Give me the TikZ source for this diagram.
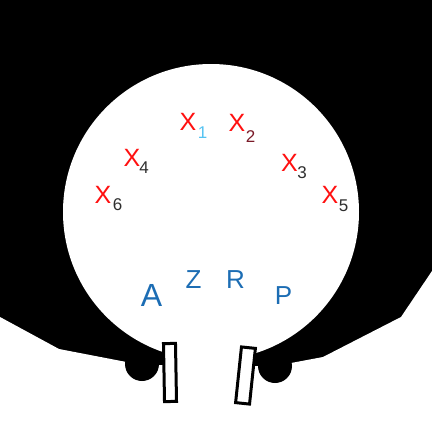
\documentclass[tikz,border=0pt]{standalone}
\usepackage{fontspec}
\setmainfont{Liberation Sans}
\usetikzlibrary{positioning}
\definecolor{scRed}{HTML}{FF1010}
\definecolor{scBlue}{HTML}{1C6DB4}
\definecolor{scSky}{HTML}{55C3F2}
\definecolor{scWine}{HTML}{7A1A28}
\definecolor{scGrey}{HTML}{2E2E2E}
\tikzset{
  xletter/.style={inner sep=0pt, text=scRed, font=\fontsize{25}{25}\selectfont},
  xsub/.style={inner sep=0pt, text=scGrey, font=\fontsize{17}{17}\selectfont},
  bigletter/.style={inner sep=0pt, text=scBlue, font=\fontsize{26}{26}\selectfont},
  post/.style={draw=black, fill=white, line width=3pt, minimum width=12pt, minimum height=58pt, inner sep=0pt},
  knob/.style={fill=black}
}
\begin{document}
\begin{tikzpicture}[x=1pt, y=-1pt]
  % background and outline
  \useasboundingbox (0,0) rectangle (432,432);
  \fill[black] (0,0) rectangle (432,432);
  \fill[white] (211,212) circle[radius=148];
  \fill[white] (0,317) -- (59,349) -- (142,365) -- (166,365) -- (166,335)
    -- (245,335) -- (245,366) -- (275,366) -- (323,357) -- (401,317)
    -- (432,271) -- (432,432) -- (0,432) -- cycle;
  \fill[knob] (142,364) circle[radius=17];
  \fill[knob] (275,366) circle[radius=17];
  \node[post, rotate=1] (postL) at (170,372.5) {};
  \node[post, rotate=-6, minimum width=14pt, minimum height=56pt] (postR) at (245.5,375.5) {};

  % red marks
  \node[xletter] (x1) at (188,122) {X};
  \node[xsub, text=scSky] (s1) at (202.5,133) {1};
  \node[xletter] (x2) at (237,123) {X};
  \node[xsub, text=scWine] (s2) at (250.5,137) {2};
  \node[xletter] (x3) at (289.5,163) {X};
  \node[xsub] (s3) at (302,172.5) {3};
  \node[xletter] (x4) at (132,158) {X};
  \node[xsub] (s4) at (144,168) {4};
  \node[xletter] (x5) at (330,195) {X};
  \node[xsub] (s5) at (343.5,206) {5};
  \node[xletter] (x6) at (103,195) {X};
  \node[xsub] (s6) at (117.5,205) {6};

  % blue letters
  \node[bigletter, font=\fontsize{32}{32}\selectfont] (lA) at (151.5,295) {A};
  \node[bigletter] (lZ) at (193.5,280) {Z};
  \node[bigletter] (lR) at (235.5,280) {R};
  \node[bigletter] (lP) at (283.5,296) {P};
\end{tikzpicture}
\end{document}
